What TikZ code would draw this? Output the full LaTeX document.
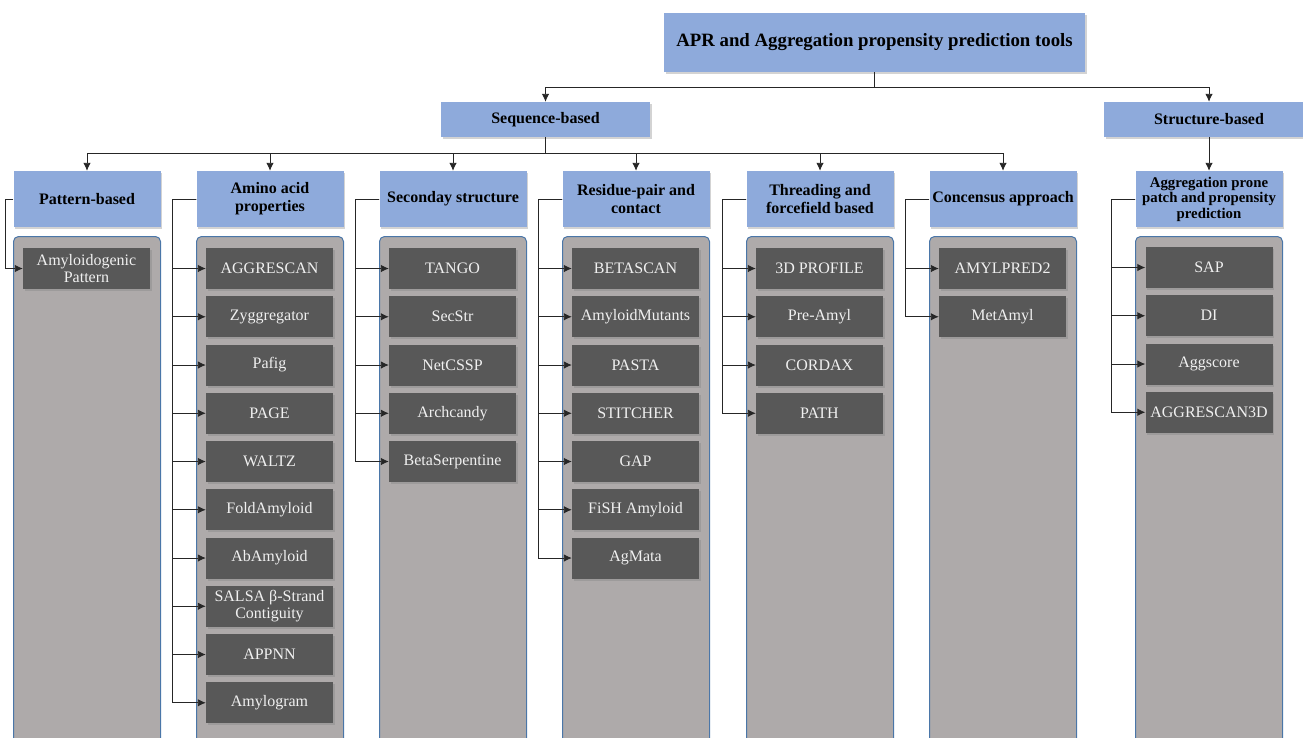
\documentclass[tikz,border=0pt]{standalone}
\usepackage{fontspec}
\setmainfont{Liberation Serif}
\usetikzlibrary{shadows,arrows.meta}
\definecolor{hdrc}{HTML}{8EAADB}
\definecolor{panc}{HTML}{AEAAAA}
\definecolor{panb}{HTML}{4A76A8}
\definecolor{itmc}{HTML}{585858}
\definecolor{linec}{HTML}{262626}
\begin{document}
\begin{tikzpicture}[x=1pt,y=-1pt,
  hdr/.style={fill=hdrc, draw=none, inner sep=0pt, align=center,
    drop shadow={shadow xshift=1.5pt, shadow yshift=-2pt, opacity=0.35},
    font=\bfseries\fontsize{16}{18}\selectfont, text=black},
  colhdr/.style={hdr, minimum width=147pt, minimum height=56pt},
  panel/.style={fill=panc, draw=panb, line width=1pt, rounded corners=5pt,
    minimum width=147pt, minimum height=540pt, anchor=north, inner sep=0pt},
  item/.style={fill=itmc, draw=none, inner sep=0pt, align=center,
    minimum width=127pt, minimum height=41pt, text=white!94!black,
    drop shadow={shadow xshift=1.5pt, shadow yshift=-2pt, opacity=0.35},
    font=\fontsize{16}{17}\selectfont},
  conn/.style={draw=linec, line width=0.9pt},
  arr/.style={conn, -{Latex[length=8pt,width=7.5pt]}}
]
\useasboundingbox (0,0) rectangle (1303,737);
\clip (0,0) rectangle (1303,737);

% top levels
\node[hdr, minimum width=421pt, minimum height=59pt, font=\bfseries\fontsize{18.8}{20}\selectfont] (top) at (874.5,42.5) {APR and Aggregation propensity prediction tools};
\node[hdr, minimum width=209pt, minimum height=35pt] (seq) at (545.5,119.5) {Sequence-based};
\node[hdr, minimum width=210pt, minimum height=35pt] (str) at (1209,119.5) {Structure-based};

\draw[arr] (top.south) -- ++(0,15) -| (seq.north);
\draw[arr] (top.south) -- ++(0,15) -| (str.north);

% column headers
\node[colhdr] (h1) at (87,199) {Pattern-based};
\node[colhdr] (h2) at (270,199) {Amino acid\\properties};
\node[colhdr] (h3) at (453,199) {Seconday structure};
\node[colhdr] (h4) at (636,199) {Residue-pair and\\contact};
\node[colhdr] (h5) at (820,199) {Threading and\\forcefield based};
\node[colhdr] (h6) at (1003,199) {Concensus approach};
\node[colhdr, font=\bfseries\fontsize{14.8}{15.5}\selectfont] (h7) at (1209,199) {Aggregation prone\\patch and propensity\\prediction};

\foreach \h in {h1,h2,h3,h4,h5,h6}
  \draw[arr] (seq.south) -- ++(0,16) -| (\h.north);
\draw[arr] (str.south) -- (h7.north);

% panels
\node[panel] (p1) at (87,236) {};
\node[panel] (p2) at (270,236) {};
\node[panel] (p3) at (453,236) {};
\node[panel] (p4) at (636,236) {};
\node[panel] (p5) at (820,236) {};
\node[panel] (p6) at (1003,236) {};
\node[panel] (p7) at (1209,236) {};

% items
\node[item] (a1) at (86.5,268.5) {Amyloidogenic\\Pattern};
\draw[arr] (h1.west) -- ++(-8,0) |- (a1.west);

\foreach \t [count=\i] in {AGGRESCAN, Zyggregator, Pafig, PAGE, WALTZ, FoldAmyloid, AbAmyloid, {SALSA β-Strand\\Contiguity}, APPNN, Amylogram} {
  \node[item] (b\i) at (269.5,{268.5+48.25*(\i-1)}) {\t};
  \draw[arr] (h2.west) -- ++(-24,0) |- (b\i.west);
}
\foreach \t [count=\i] in {TANGO, SecStr, NetCSSP, Archcandy, BetaSerpentine} {
  \node[item] (c\i) at (452.5,{268.5+48.25*(\i-1)}) {\t};
  \draw[arr] (h3.west) -- ++(-24,0) |- (c\i.west);
}
\foreach \t [count=\i] in {BETASCAN, AmyloidMutants, PASTA, STITCHER, GAP, FiSH Amyloid, AgMata} {
  \node[item] (d\i) at (635.5,{268.5+48.25*(\i-1)}) {\t};
  \draw[arr] (h4.west) -- ++(-24,0) |- (d\i.west);
}
\foreach \t [count=\i] in {3D PROFILE, Pre-Amyl, CORDAX, PATH} {
  \node[item] (e\i) at (819.5,{268.5+48.25*(\i-1)}) {\t};
  \draw[arr] (h5.west) -- ++(-24,0) |- (e\i.west);
}
\foreach \t [count=\i] in {AMYLPRED2, MetAmyl} {
  \node[item] (f\i) at (1002.5,{268.5+48.25*(\i-1)}) {\t};
  \draw[arr] (h6.west) -- ++(-24,0) |- (f\i.west);
}
\foreach \t [count=\i] in {SAP, DI, Aggscore, AGGRESCAN3D} {
  \node[item] (g\i) at (1209,{267.5+48.25*(\i-1)}) {\t};
  \draw[arr] (h7.west) -- ++(-24,0) |- (g\i.west);
}
\end{tikzpicture}
\end{document}
